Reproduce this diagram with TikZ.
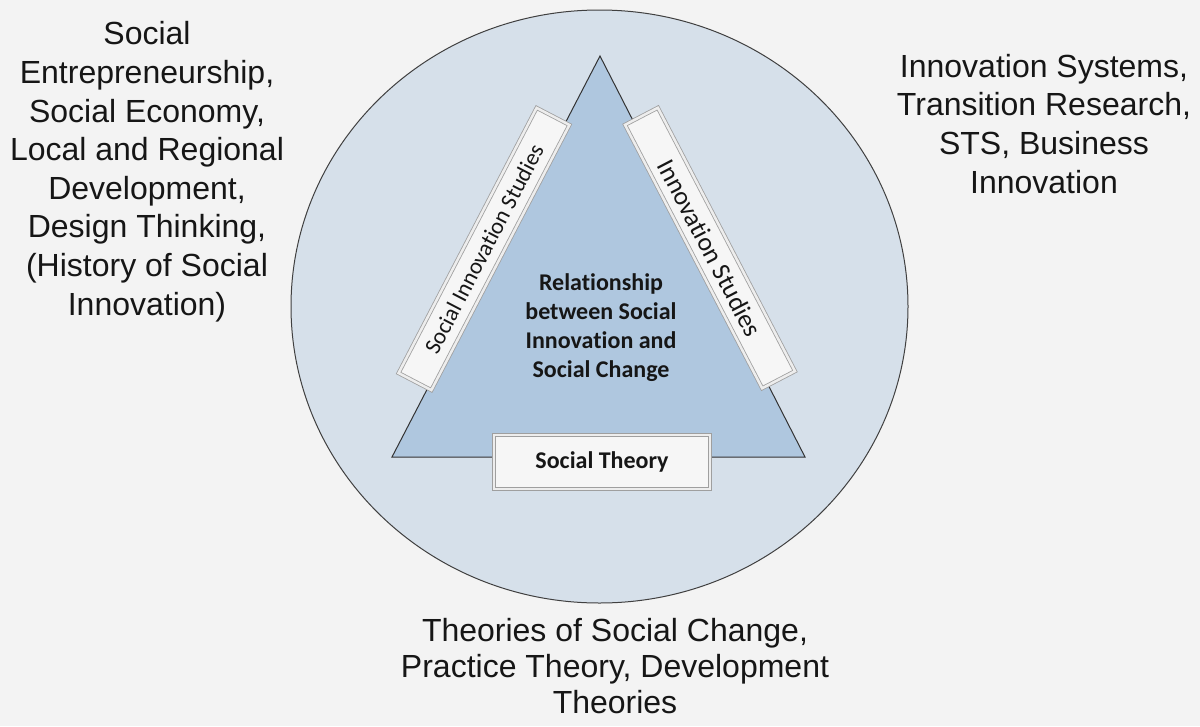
\documentclass[tikz,border=0pt]{standalone}
\usepackage{fontspec}
\setmainfont{Liberation Sans}
\newfontfamily\calibri[Ligatures=NoCommon]{Carlito}
\definecolor{bggray}{HTML}{F3F3F3}
\definecolor{ringblue}{HTML}{D6E0EA}
\definecolor{triblue}{HTML}{AFC7DF}
\definecolor{barfill}{HTML}{F6F6F6}
\definecolor{inktext}{HTML}{161616}
\begin{document}
\begin{tikzpicture}[x=1pt, y=-1pt,
    field/.style ={align=center, inner sep=0pt, anchor=base, text=inktext, font=\fontsize{32}{38.6}\selectfont},
    bar/.style ={draw=gray!75, line width=0.8pt, double=gray!14, double distance=2.5pt, fill=barfill, inner sep=0pt, text=inktext}]
   \useasboundingbox (0,0) rectangle (1200,726);
   \fill[bggray] (0,0) rectangle (1200,726);
   \draw[fill=ringblue, draw=black!75, line width=1pt] (599.5,306.5) ellipse [x radius=308.5, y radius=296.5];
   \draw[fill=triblue, draw=black!80, line width=1pt] (600,56) -- (805,457) -- (392,457) -- cycle;
   % anchor base sits on the last line
   \node[align=center, inner sep=0pt, anchor=base, text=inktext, font=\calibri\bfseries\fontsize{24}{29}\selectfont] (rel) at (601,377) {Relationship\\between Social\\Innovation and\\Social Change};
   \node[bar, rotate=62.5, minimum width=299, minimum height=37, font=\calibri\fontsize{23}{28}\selectfont] (sis) at (484,249) {Social Innovation Studies};
   \node[bar, rotate=-62.5, minimum width=297, minimum height=37, font=\calibri\fontsize{26}{30}\selectfont] (ins) at (710,248) {Innovation Studies};
   \node[bar, minimum width=216, minimum height=54, font=\calibri\bfseries\fontsize{24}{29}\selectfont] (theory) at (602,462) {Social Theory};
   \node[field] (left) at (147,315) {Social\\Entrepreneurship,\\Social Economy,\\Local and Regional\\Development,\\Design Thinking,\\(History of Social\\Innovation)};
   \node[field] (right) at (1044,193) {Innovation Systems,\\Transition Research,\\STS, Business\\Innovation};
   \node[field, font=\fontsize{32}{36}\selectfont] (bottom) at (615,713) {Theories of Social Change,\\Practice Theory, Development\\Theories};
 \end{tikzpicture}
\end{document}
